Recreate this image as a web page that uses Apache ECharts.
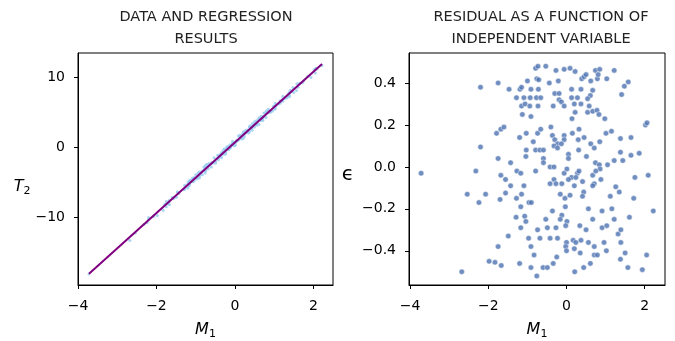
<!DOCTYPE html>
<html>
<head>
<meta charset="utf-8">
<script src="https://cdn.jsdelivr.net/npm/echarts@6/dist/echarts.min.js"></script>
<style>
  html, body { margin: 0; padding: 0; background: #fff; }
  #chart { width: 675px; height: 341px; }
</style>
</head>
<body>
<div id="chart"></div>
<script>
// independent variable M1, one entry per observation
const m1 = [
  -0.79, -0.73, -0.53, -0.27, -0.06, 0.09, 0.22, 0.39, 0.45, 0.50, 0.74, 0.85, 1.22, 0.79, 0.81, 0.62, 1.03,
  -1.00, -0.76, -0.71, -0.44, -0.21, -2.20, -1.75, -1.47, -1.19, -1.15, -0.91, -0.72, 0.13, 0.37, 0.67, 0.61,
  0.54, 1.58, 1.48, 1.41, -1.28, -1.09, -0.93, -0.77, -0.66, -0.30, -0.19, 0.13, 0.28, -0.19, -0.13, -0.06,
  -1.15, -1.06, -0.94, -0.73, -0.34, 0.20, 0.37, 0.58, -1.13, -0.91, 0.14, 0.22, 0.54, 0.67, 0.78, 0.83, 0.98,
  -1.79, -1.68, -1.60, -2.20, -1.20, -1.03, -0.85, -0.74, -0.66, -0.40, -0.36, -0.30, -0.23, -0.06, -0.06,
  0.15, 0.32, 0.30, 0.45, 0.62, 0.71, 0.85, 1.01, 1.15, 1.38, 1.65, 2.02, 2.06, -0.32, -0.13,
  -1.75, -1.43, -1.03, -1.04, -0.79, -0.68, -0.59, -0.59, -0.59, -0.23, 0.05, 0.05, 0.31, 0.51, 0.74, 0.84,
  1.05, 1.22, 1.44, 1.38, 1.65, 1.86, -1.27, -1.17, -0.79, -0.42, -0.32, -0.06, 0.01, 0.13, 0.28, 0.32, 0.86,
  -2.32, -3.72, -1.68, -1.56, -1.43, -1.09, -1.28, -1.15, -0.96, -0.42, -0.32, -0.27, -0.12, 0.05, 0.24, 0.20,
  0.41, 0.44, 0.67, 0.75, 0.71, 0.88, 0.67, 1.26, 1.35, 1.75, 2.09, -2.54, -2.07, -2.24, -1.70, -1.56,
  -0.16, 0.09, -0.04, 0.41, 1.12, 1.72, -1.17, -0.90, -0.36, -0.03, -0.12, -0.16, 0.56, 0.91, 1.16,
  -1.29, -1.07, -1.04, -1.17, -0.74, -0.53, -0.49, -0.27, 0.01, -0.02, 0.34, 0.50, 0.67, 0.91, 1.03, 1.22,
  1.32, 1.39, 1.61, -1.49, -0.97, -0.68, -0.42, -0.23, 0.00, 0.17, 0.24, 0.37, 0.56, 0.71, 0.96, 1.39,
  -1.75, -0.91, -0.02, 0.20, 1.50, 2.05, -0.83, -0.25, 0.00, 0.35, 0.71, 0.79, 1.02, 1.38,
  -1.98, -1.83, -1.67, -1.20, -0.91, -0.60, -0.49, -0.34, 0.44, 0.61, -2.68, -0.76, 0.21, 1.57, 1.94, 2.22
];

// residual epsilon for the same observations
const resid = [
  0.47, 0.48, 0.48, 0.46, 0.465, 0.47, 0.455, 0.42, 0.43, 0.44, 0.46, 0.465, 0.46, 0.42, 0.44, 0.41, 0.42,
  0.41, 0.42, 0.415, 0.40, 0.41, 0.38, 0.40, 0.37, 0.37, 0.38, 0.37, 0.37, 0.37, 0.37, 0.365, 0.34,
  0.325, 0.405, 0.385, 0.345, 0.33, 0.33, 0.33, 0.33, 0.33, 0.35, 0.35, 0.33, 0.33, 0.32, 0.31, 0.29,
  0.29, 0.30, 0.29, 0.29, 0.29, 0.30, 0.30, 0.29, 0.25, 0.24, 0.23, 0.26, 0.26, 0.265, 0.27, 0.25, 0.23,
  0.16, 0.18, 0.19, 0.095, 0.14, 0.16, 0.12, 0.16, 0.18, 0.19, 0.15, 0.13, 0.11, 0.15, 0.13,
  0.16, 0.18, 0.13, 0.14, 0.11, 0.09, 0.12, 0.16, 0.17, 0.135, 0.14, 0.20, 0.21, 0.10, 0.11,
  0.04, 0.02, 0.08, 0.05, 0.08, 0.08, 0.08, 0.04, 0.02, 0.09, 0.06, 0.04, 0.08, 0.05, 0.02, 0.01,
  0.01, 0.03, 0.03, 0.07, 0.055, 0.065, -0.02, -0.03, -0.02, 0.00, 0.00, -0.03, -0.01, -0.05, -0.03, -0.02, -0.01,
  -0.02, -0.03, -0.04, -0.06, -0.09, -0.09, -0.15, -0.13, -0.17, -0.08, -0.06, -0.08, -0.08, -0.06, -0.05, -0.09,
  -0.07, -0.12, -0.04, -0.02, -0.08, -0.06, -0.09, -0.095, -0.12, -0.05, -0.04, -0.13, -0.13, -0.17, -0.155, -0.125,
  -0.13, -0.135, -0.15, -0.14, -0.14, -0.15, -0.19, -0.17, -0.21, -0.19, -0.23, -0.25, -0.20, -0.21, -0.20,
  -0.24, -0.235, -0.26, -0.29, -0.30, -0.25, -0.29, -0.29, -0.26, -0.28, -0.28, -0.30, -0.25, -0.29, -0.28, -0.25,
  -0.32, -0.30, -0.24, -0.33, -0.34, -0.34, -0.34, -0.34, -0.36, -0.35, -0.36, -0.35, -0.36, -0.38, -0.36, -0.36,
  -0.38, -0.38, -0.38, -0.39, -0.41, -0.42, -0.42, -0.43, -0.40, -0.41, -0.42, -0.42, -0.40, -0.44,
  -0.45, -0.455, -0.47, -0.46, -0.48, -0.48, -0.48, -0.46, -0.48, -0.46, -0.50, -0.52, -0.50, -0.48, -0.49, -0.21
];

// fitted regression line
const fitIntercept = 0.7;
const fitSlope = 5.05;
const lineX = [-3.72, 2.22];

const xTicks = [-4, -2, 0, 2];
const xTickLabels = ['\u22124', '\u22122', '0', '2'];
const t2Ticks = [-10, 0, 10];
const t2TickLabels = ['\u221210', '0', '10'];
const epsTicks = [-0.4, -0.2, 0, 0.2, 0.4];
const epsTickLabels = ['\u22120.4', '\u22120.2', '0.0', '0.2', '0.4'];

const FONT = 'DejaVu Sans';

// observed T2 = fitted value + residual
const dataPts = m1.map((x, i) => [x, fitIntercept + fitSlope * x + resid[i]]);
const linePts = lineX.map(x => [x, fitIntercept + fitSlope * x]);
const residPts = m1.map((x, i) => [x, resid[i]]);

function labelFor(ticks, labels) {
  return v => {
    const i = ticks.findIndex(t => Math.abs(t - v) < 1e-9);
    return i >= 0 ? labels[i] : '';
  };
}

const nameRich = {
  i: { fontFamily: FONT, fontStyle: 'italic', fontSize: 16, color: '#000' },
  s: { fontFamily: FONT, fontSize: 11, color: '#000', verticalAlign: 'bottom', padding: [9, 0, 0, 0] },
  e: { fontFamily: FONT, fontSize: 20, color: '#000' }
};

function xAxisCfg(gridIndex, min, max) {
  return {
    type: 'value', gridIndex, min, max,
    name: '{i|M}{s|1}', nameLocation: 'middle', nameGap: 35,
    nameTextStyle: { rich: nameRich },
    axisLine: { show: true, onZero: false, lineStyle: { color: '#000', width: 1 } },
    axisTick: { show: true, inside: false, length: 4, customValues: xTicks, lineStyle: { color: '#000' } },
    axisLabel: { customValues: xTicks, formatter: labelFor(xTicks, xTickLabels), margin: 14,
      fontFamily: FONT, fontSize: 14, color: '#000' },
    splitLine: { show: false }
  };
}

const chart = echarts.init(document.getElementById('chart'), null, { renderer: 'canvas' });
chart.setOption({
  animation: false,
  backgroundColor: '#fff',
  title: [
    { text: 'DATA AND REGRESSION\nRESULTS', left: 201, top: 1, textAlign: 'center',
      textStyle: { fontFamily: FONT, fontSize: 14.5, fontWeight: 'normal', color: '#222', lineHeight: 22 } },
    { text: 'RESIDUAL AS A FUNCTION OF\nINDEPENDENT VARIABLE', left: 536, top: 1, textAlign: 'center',
      textStyle: { fontFamily: FONT, fontSize: 14.5, fontWeight: 'normal', color: '#222', lineHeight: 22 } }
  ],
  grid: [
    { left: 78, top: 53, width: 255, height: 232, outerBoundsMode: 'none', containLabel: false,
      show: true, borderColor: '#000', borderWidth: 1 },
    { left: 409, top: 53, width: 256, height: 232, outerBoundsMode: 'none', containLabel: false,
      show: true, borderColor: '#000', borderWidth: 1 }
  ],
  xAxis: [xAxisCfg(0, -4.0, 2.5), xAxisCfg(1, -4.03, 2.52)],
  yAxis: [
    {
      type: 'value', gridIndex: 0, min: -19.7, max: 13.5,
      name: '{i|T}{s|2}', nameLocation: 'middle', nameRotate: 0, nameGap: 45,
      nameTextStyle: { rich: nameRich, padding: [36, 0, 0, 0] },
      axisLine: { show: true, onZero: false, lineStyle: { color: '#000', width: 1 } },
      axisTick: { show: true, length: 4, customValues: t2Ticks, lineStyle: { color: '#000' } },
      axisLabel: { customValues: t2Ticks, formatter: labelFor(t2Ticks, t2TickLabels), margin: 13,
        fontFamily: FONT, fontSize: 14, color: '#000' },
      splitLine: { show: false }
    },
    {
      type: 'value', gridIndex: 1, min: -0.563, max: 0.543,
      name: '{e|\u03f5}', nameLocation: 'middle', nameRotate: 0, nameGap: 55,
      nameTextStyle: { rich: nameRich, padding: [12, 0, 0, 0] },
      axisLine: { show: true, onZero: false, lineStyle: { color: '#000', width: 1 } },
      axisTick: { show: true, length: 4, customValues: epsTicks, lineStyle: { color: '#000' } },
      axisLabel: { customValues: epsTicks, formatter: labelFor(epsTicks, epsTickLabels), margin: 13,
        fontFamily: FONT, fontSize: 14, color: '#000' },
      splitLine: { show: false }
    }
  ],
  series: [
    {
      type: 'scatter', xAxisIndex: 0, yAxisIndex: 0, data: dataPts,
      symbolSize: 3, itemStyle: { color: '#9fd0ef', opacity: 0.9 }, z: 2
    },
    {
      type: 'line', xAxisIndex: 0, yAxisIndex: 0, data: linePts,
      showSymbol: false, lineStyle: { color: '#800080', width: 2 }, z: 3
    },
    {
      type: 'scatter', xAxisIndex: 1, yAxisIndex: 1, data: residPts,
      symbolSize: 5.5, itemStyle: { color: '#4c72b0', borderColor: '#fff', borderWidth: 0.6 }, z: 2
    }
  ]
});
</script>
</body>
</html>
